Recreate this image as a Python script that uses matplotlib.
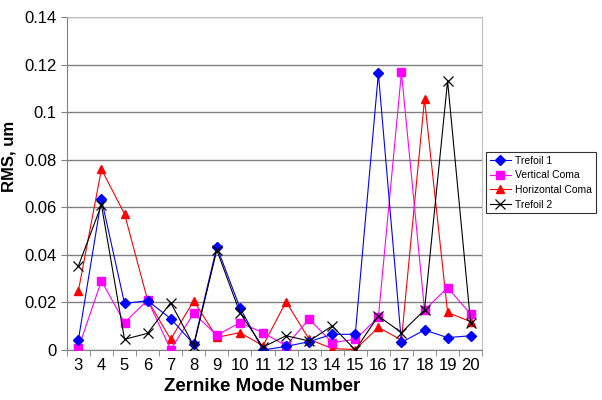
import numpy as np
import matplotlib
matplotlib.use('Agg')
import matplotlib.pyplot as plt

plt.rcParams['font.family'] = ['Liberation Sans', 'DejaVu Sans']

# zernike mode numbers and rms values
modes = np.arange(3, 21)
trefoil1 = [0.0042, 0.0635, 0.0196, 0.0207, 0.0132, 0.0024, 0.0434, 0.0178, 0.0000,
            0.0015, 0.0035, 0.0066, 0.0066, 0.1163, 0.0032, 0.0084, 0.0052, 0.0060]
vert_coma = [0.0007, 0.0291, 0.0115, 0.0210, 0.0002, 0.0154, 0.0062, 0.0115, 0.0073,
             0.0018, 0.0130, 0.0031, 0.0045, 0.0137, 0.1167, 0.0168, 0.0262, 0.0151]
horiz_coma = [0.0248, 0.0760, 0.0572, 0.0210, 0.0045, 0.0207, 0.0053, 0.0073, 0.0018,
              0.0203, 0.0045, 0.0006, 0.0002, 0.0095, 0.0042, 0.1054, 0.0158, 0.0119]
trefoil2 = [0.0353, 0.0610, 0.0045, 0.0070, 0.0199, 0.0018, 0.0420, 0.0157, 0.0012,
            0.0060, 0.0038, 0.0101, 0.0000, 0.0143, 0.0073, 0.0168, 0.1131, 0.0112]
yticks = [0, 0.02, 0.04, 0.06, 0.08, 0.1, 0.12, 0.14]
ytick_labels = ['0', '0.02', '0.04', '0.06', '0.08', '0.1', '0.12', '0.14']

fig = plt.figure(figsize=(6.02, 4.0), dpi=100)
ax = fig.add_axes([0.111, 0.125, 0.690, 0.8325])

ax.plot(modes, trefoil1, color='#0000ff', marker='D', markersize=5, lw=0.8, label='Trefoil 1', zorder=5)
ax.plot(modes, vert_coma, color='#ff00ff', marker='s', markersize=6, lw=0.8, label='Vertical Coma', zorder=4)
ax.plot(modes, horiz_coma, color='#ff0000', marker='^', markersize=6, lw=0.8, label='Horizontal Coma', zorder=3)
ax.plot(modes, trefoil2, color='#000000', marker='x', markersize=7, mew=0.9, lw=0.8, label='Trefoil 2', zorder=6)

ax.set_xlim(2.5, 20.5)
ax.set_ylim(0, 0.14)
ax.set_yticks(yticks)
ax.set_yticklabels(ytick_labels, fontsize=12)
ax.set_xticks(modes)
ax.set_xticklabels([str(m) for m in modes], fontsize=12)
ax.set_xticks(np.arange(2.5, 21, 1), minor=True)
ax.tick_params(axis='x', which='major', length=0, pad=6)
ax.tick_params(axis='x', which='minor', length=4, direction='out', color='#808080')
ax.tick_params(axis='y', length=4, direction='out', color='#808080')
ax.yaxis.grid(True, color='#808080', lw=1)
ax.set_axisbelow(True)

for s in ['top', 'right']:
    ax.spines[s].set_color('#c0c0c0')
for s in ['left', 'bottom']:
    ax.spines[s].set_color('#808080')

ax.set_xlabel('Zernike Mode Number', fontsize=13.5, fontweight='bold')
ax.xaxis.set_label_coords(0.47, -0.085)
ax.set_ylabel('RMS, um', fontsize=12, fontweight='bold')
ax.yaxis.set_label_coords(-0.122, 0.58)

leg = ax.legend(loc='upper left', bbox_to_anchor=(1.01, 0.595), fontsize=7.5, frameon=True,
                fancybox=False, edgecolor='#000000', handlelength=2.0, borderpad=0.35,
                labelspacing=0.45, handletextpad=0.4, borderaxespad=0)
leg.get_frame().set_linewidth(0.8)

fig.savefig('out.png', dpi=100)
